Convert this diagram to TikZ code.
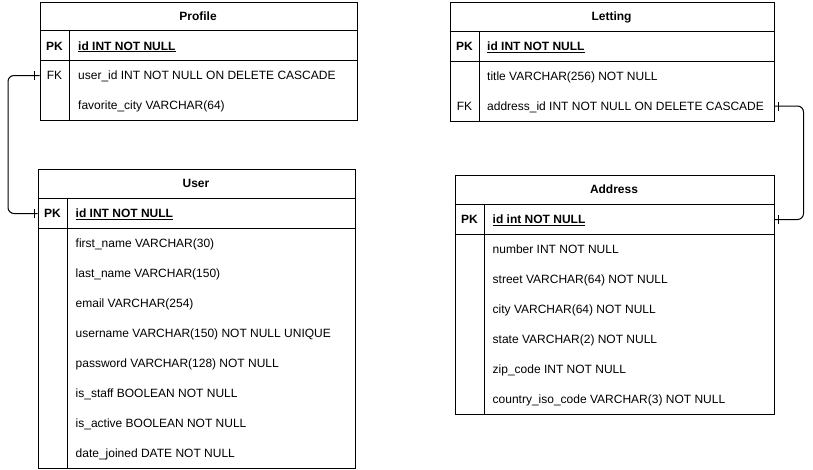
\documentclass[tikz,border=0pt]{standalone}
\usepackage{fontspec}
\setmainfont{Liberation Sans}
\begin{document}
\begin{tikzpicture}[x=1pt,y=-1pt,
  frame/.style={draw, line width=1pt, inner sep=0pt, anchor=north west},
  sep/.style={line width=1pt},
  title/.style={font=\fontsize{12}{14}\selectfont\bfseries, inner sep=0pt, text height=10pt, text depth=2pt},
  field/.style={font=\fontsize{12}{14}\selectfont, inner sep=0pt, anchor=west, text height=10pt, text depth=2pt},
  keyf/.style={font=\fontsize{12}{14}\selectfont, inner sep=0pt, text height=10pt, text depth=2pt},
  pkf/.style={font=\fontsize{12}{14}\selectfont\bfseries, inner sep=0pt, anchor=west, text height=10pt, text depth=2pt},
  link/.style={line width=1pt, rounded corners=6pt},
  tick/.style={line width=1pt}]
\useasboundingbox (0,0) rectangle (813,469);
\fill[white] (0,0) rectangle (813,469);

% ---------- Profile ----------
\node[frame, minimum width=317pt, minimum height=118.5pt] (profile) at (39.5,1.5) {};
\draw[sep] (39.5,30.5) -- (356.5,30.5);
\draw[sep] (39.5,60.5) -- (356.5,60.5);
\draw[sep] (69.5,30.5) -- (69.5,120);
\node[title] (profilet) at (198,16) {Profile};
\node[keyf,font=\fontsize{12}{14}\selectfont\bfseries] (profilepkk) at (54.5,46) {PK};
\node[pkf] (profilepk) at (78,46) {\underline{id INT NOT NULL}};
\node[keyf] (profilefkk) at (54.5,75.5) {FK};
\node[field] (profilefk) at (78,75.5) {user\_id INT NOT NULL ON DELETE CASCADE};
\node[field] (profilefav) at (78,105.5) {favorite\_city VARCHAR(64)};

% ---------- User ----------
\node[frame, minimum width=317pt, minimum height=299pt] (user) at (37.5,168.5) {};
\draw[sep] (37.5,198.5) -- (354.5,198.5);
\draw[sep] (37.5,228.5) -- (354.5,228.5);
\draw[sep] (67.5,198.5) -- (67.5,467.5);
\node[title] (usert) at (196,183.5) {User};
\node[keyf,font=\fontsize{12}{14}\selectfont\bfseries] (userpkk) at (52.5,213.5) {PK};
\node[pkf] (userpk) at (75.5,213.5) {\underline{id INT NOT NULL}};
\node[field] (userf1) at (75.5,243.5) {first\_name VARCHAR(30)};
\node[field] (userf2) at (75.5,273.5) {last\_name VARCHAR(150)};
\node[field] (userf3) at (75.5,303.5) {email VARCHAR(254)};
\node[field] (userf4) at (75.5,333.5) {username VARCHAR(150) NOT NULL UNIQUE};
\node[field] (userf5) at (75.5,363.5) {password VARCHAR(128) NOT NULL};
\node[field] (userf6) at (75.5,393.5) {is\_staff BOOLEAN NOT NULL};
\node[field] (userf7) at (75.5,423.5) {is\_active BOOLEAN NOT NULL};
\node[field] (userf8) at (75.5,453.5) {date\_joined DATE NOT NULL};

% ---------- Letting ----------
\node[frame, minimum width=324pt, minimum height=119.5pt] (letting) at (449.5,1.5) {};
\draw[sep] (449.5,31) -- (773.5,31);
\draw[sep] (449.5,61) -- (773.5,61);
\draw[sep] (479.5,31) -- (479.5,121);
\node[title] (lettingt) at (611.5,16.5) {Letting};
\node[keyf,font=\fontsize{12}{14}\selectfont\bfseries] (lettingpkk) at (464.5,46.5) {PK};
\node[pkf] (lettingpk) at (487,46.5) {\underline{id INT NOT NULL}};
\node[field] (lettingtitle) at (487,76) {title VARCHAR(256) NOT NULL};
\node[keyf] (lettingfkk) at (464.5,106) {FK};
\node[field] (lettingfk) at (487,106) {address\_id INT NOT NULL ON DELETE CASCADE};

% ---------- Address ----------
\node[frame, minimum width=319pt, minimum height=239.5pt] (address) at (454.5,174.5) {};
\draw[sep] (454.5,204) -- (773.5,204);
\draw[sep] (454.5,234) -- (773.5,234);
\draw[sep] (484.5,204) -- (484.5,414);
\node[title] (addresst) at (614,189.5) {Address};
\node[keyf,font=\fontsize{12}{14}\selectfont\bfseries] (addresspkk) at (469.5,219.5) {PK};
\node[pkf] (addresspk) at (492.5,219.5) {\underline{id int NOT NULL}};
\node[field] (addressf1) at (492.5,249.5) {number INT NOT NULL};
\node[field] (addressf2) at (492.5,279.5) {street VARCHAR(64) NOT NULL};
\node[field] (addressf3) at (492.5,309.5) {city VARCHAR(64) NOT NULL};
\node[field] (addressf4) at (492.5,339.5) {state VARCHAR(2) NOT NULL};
\node[field] (addressf5) at (492.5,369.5) {zip\_code INT NOT NULL};
\node[field] (addressf6) at (492.5,399.5) {country\_iso\_code VARCHAR(3) NOT NULL};

% ---------- connectors ----------
\coordinate (pfkend) at (profile.west |- profilefk);
\coordinate (upkend) at (user.west |- userpk);
\coordinate (lfkend) at (letting.east |- lettingfk);
\coordinate (apkend) at (address.east |- addresspk);

\draw[link] (pfkend) -- (8,75.5) -- (8,213.5) -- (upkend);
\draw[tick] ([xshift=-5.5pt,yshift=-4.5pt]pfkend) -- ([xshift=-5.5pt,yshift=4.5pt]pfkend);
\draw[tick] ([xshift=-3.5pt,yshift=-4.5pt]upkend) -- ([xshift=-3.5pt,yshift=4.5pt]upkend);

\draw[link] (lfkend) -- (803.5,106) -- (803.5,219.5) -- (apkend);
\draw[tick] ([xshift=4pt,yshift=-4.5pt]lfkend) -- ([xshift=4pt,yshift=4.5pt]lfkend);
\draw[tick] ([xshift=4pt,yshift=-4.5pt]apkend) -- ([xshift=4pt,yshift=4.5pt]apkend);
\end{tikzpicture}
\end{document}
